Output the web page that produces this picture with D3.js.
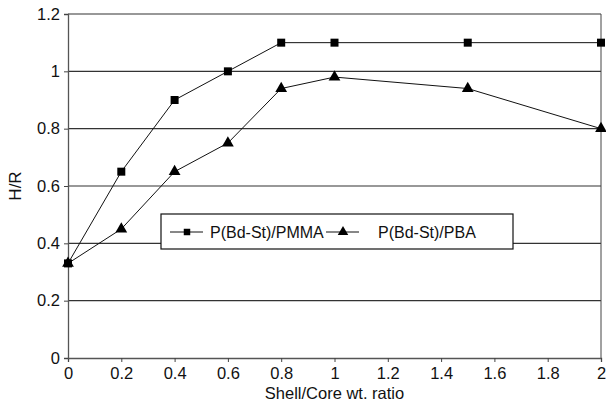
<!DOCTYPE html>
<html lang="en">
<head>
<meta charset="UTF-8">
<title>H/R vs Shell/Core ratio</title>
<style>
    body { margin: 0; background: #fff; }
    text { font-family: "Liberation Sans", Arial, sans-serif; fill: #111; }
</style>
</head>
<body>
<script src="https://d3js.org/d3.v7.min.js"></script>
<script>
    // data
    const ratios = [0, 0.2, 0.4, 0.6, 0.8, 1, 1.5, 2];
    const pmma = [0.33, 0.65, 0.9, 1.0, 1.1, 1.1, 1.1, 1.1];
    const pba = [0.33, 0.45, 0.65, 0.75, 0.94, 0.98, 0.94, 0.8];
    const seriesNames = ["P(Bd-St)/PMMA", "P(Bd-St)/PBA"];
    const xTicks = [0, 0.2, 0.4, 0.6, 0.8, 1, 1.2, 1.4, 1.6, 1.8, 2];
    const yTicks = [0, 0.2, 0.4, 0.6, 0.8, 1, 1.2];

    const width = 606, height = 402,
        margin = {top: 14, right: 5, bottom: 44, left: 68};

    const svg = d3.select("body").append("svg")
        .attr("width", width)
        .attr("height", height);

    const x = d3.scaleLinear().domain([0, 2]).range([margin.left, width - margin.right]);
    const y = d3.scaleLinear().domain([0, 1.2]).range([height - margin.bottom, margin.top]);

    // horizontal gridlines
    svg.append("g")
        .selectAll("line")
        .data(yTicks.slice(1))
        .join("line")
        .attr("x1", x(0)).attr("x2", x(2))
        .attr("y1", d => y(d)).attr("y2", d => y(d))
        .attr("stroke", "#333")
        .attr("stroke-width", 1.2);

    // right border
    svg.append("line")
        .attr("x1", x(2)).attr("x2", x(2))
        .attr("y1", y(0)).attr("y2", y(1.2))
        .attr("stroke", "#444");

    // axes
    const xAxis = svg.append("g")
        .attr("transform", `translate(0,${y(0)})`)
        .call(d3.axisBottom(x).tickValues(xTicks).tickSize(4).tickPadding(5)
            .tickFormat(d3.format("~g")));
    const yAxis = svg.append("g")
        .attr("transform", `translate(${x(0)},0)`)
        .call(d3.axisLeft(y).tickValues(yTicks).tickSize(4).tickPadding(4)
            .tickFormat(d3.format("~g")));
    [xAxis, yAxis].forEach(function(a) {
        a.select(".domain").attr("stroke", "#555").attr("stroke-width", 1.3);
        a.selectAll(".tick line").attr("stroke", "#444");
        a.selectAll(".tick text").style("font-size", "16.5px").attr("fill", "#111");
    });

    // axis titles
    svg.append("text")
        .attr("x", (x(0) + x(2)) / 2)
        .attr("y", 399)
        .attr("text-anchor", "middle")
        .style("font-size", "16.5px")
        .text("Shell/Core wt. ratio");
    svg.append("text")
        .attr("transform", `translate(21,${y(0.6)}) rotate(-90)`)
        .attr("text-anchor", "middle")
        .style("font-size", "17px")
        .text("H/R");

    const line = d3.line().x((d, i) => x(ratios[i])).y(d => y(d));
    const square = d3.symbol().type(d3.symbolSquare).size(64);
    const triangle = d3.symbol().type(d3.symbolTriangle).size(60);

    function drawSeries(values, symbol) {
        svg.append("path")
            .datum(values)
            .attr("d", line)
            .attr("fill", "none")
            .attr("stroke", "#111")
            .attr("stroke-width", 1);
        svg.append("g")
            .selectAll("path")
            .data(values)
            .join("path")
            .attr("d", symbol)
            .attr("transform", (d, i) => `translate(${x(ratios[i])},${y(d)})`)
            .attr("fill", "#000");
    }
    drawSeries(pba, triangle);
    drawSeries(pmma, square);

    // legend
    const legendSquare = d3.symbol().type(d3.symbolSquare).size(42);
    const legendTriangle = d3.symbol().type(d3.symbolTriangle).size(48);
    const legend = svg.append("g").attr("transform", "translate(161,214)");
    legend.append("rect")
        .attr("width", 352).attr("height", 35)
        .attr("fill", "#fff")
        .attr("stroke", "#111")
        .attr("stroke-width", 1.2);
    const items = [
        {name: seriesNames[0], symbol: legendSquare, lx: 9, tx: 49},
        {name: seriesNames[1], symbol: legendTriangle, lx: 165, tx: 217}
    ];
    items.forEach(function(it) {
        legend.append("line")
            .attr("x1", it.lx).attr("x2", it.lx + 33)
            .attr("y1", 18).attr("y2", 18)
            .attr("stroke", "#111");
        legend.append("path")
            .attr("d", it.symbol)
            .attr("transform", `translate(${it.lx + 17},18)`)
            .attr("fill", "#000");
        legend.append("text")
            .attr("x", it.tx).attr("y", 24)
            .style("font-size", "16px")
            .text(it.name);
    });
</script>
</body>
</html>
